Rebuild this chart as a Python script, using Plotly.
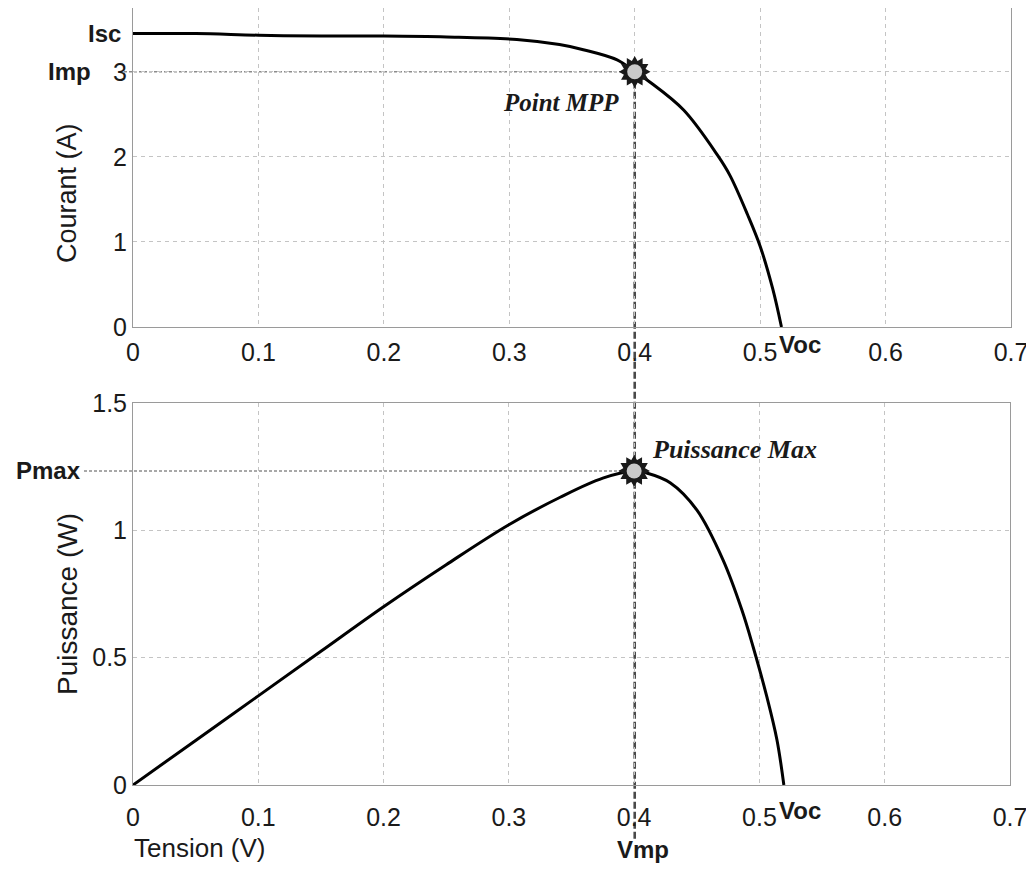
import plotly.graph_objects as go

# ---------------- data ----------------
V_IV = [0, 0.05, 0.1, 0.15, 0.2, 0.25, 0.306, 0.34, 0.359, 0.386, 0.4, 0.412, 0.439, 0.466, 0.476, 0.49, 0.50, 0.51, 0.517]
I_IV = [3.45, 3.45, 3.43, 3.42, 3.42, 3.41, 3.38, 3.32, 3.26, 3.14, 3.00, 2.88, 2.55, 2.02, 1.78, 1.32, 0.95, 0.45, 0.0]

V_PV = [0, 0.05, 0.1, 0.15, 0.2, 0.25, 0.3, 0.341, 0.375, 0.4, 0.41, 0.429, 0.45, 0.471, 0.486, 0.495, 0.506, 0.514, 0.5195]
P_PV = [0, 0.175, 0.35, 0.525, 0.70, 0.865, 1.022, 1.13, 1.205, 1.233, 1.225, 1.186, 1.08, 0.883, 0.687, 0.542, 0.345, 0.177, 0.0]

V_MP = 0.4
I_MP = 3.0
P_MAX = 1.233
I_SC = 3.45
V_OC = 0.517

X_TICKS = [0, 0.1, 0.2, 0.3, 0.4, 0.5, 0.6, 0.7]
X_TICK_TEXT = ["0", "0.1", "0.2", "0.3", "0.4", "0.5", "0.6", "0.7"]
Y1_TICKS = [0, 1, 2, 3]
Y1_TICK_TEXT = ["0", "1", "2", "3"]
Y2_TICKS = [0, 0.5, 1, 1.5]
Y2_TICK_TEXT = ["0", "0.5", "1", "1.5"]

# ---------------- layout geometry ----------------
W, H = 1034, 871
OFF = 8  # page body margin in the browser
X_RANGE = [0, 0.7]
Y1_RANGE = [0, 3.75]
Y2_RANGE = [0, 1.5]


def px_to_paper_x(px):
    return (px - OFF) / W


def px_to_paper_y(py):
    return min(1.0, 1 - (py - OFF) / H)


XDOM1 = [px_to_paper_x(133), px_to_paper_x(1011)]
XDOM2 = [px_to_paper_x(133), px_to_paper_x(1010)]
YDOM1 = [px_to_paper_y(327), px_to_paper_y(8)]
YDOM2 = [px_to_paper_y(785), px_to_paper_y(403)]


def data_to_paper(v, rng, dom):
    return dom[0] + (v - rng[0]) / (rng[1] - rng[0]) * (dom[1] - dom[0])


SANS = "Liberation Sans, Arial, sans-serif"
SERIF = "Liberation Serif, Times New Roman, serif"
TXT = "#1a1a1a"

fig = go.Figure()

# curves
fig.add_trace(go.Scatter(x=V_IV, y=I_IV, mode="lines",
                         line=dict(color="#000", width=3, shape="spline", smoothing=1.0),
                         xaxis="x", yaxis="y", showlegend=False, hoverinfo="skip"))
fig.add_trace(go.Scatter(x=V_PV, y=P_PV, mode="lines",
                         line=dict(color="#000", width=3, shape="spline", smoothing=1.0),
                         xaxis="x2", yaxis="y2", showlegend=False, hoverinfo="skip"))

# starburst markers at the maximum power point
for xa, ya, yv in (("x", "y", I_MP), ("x2", "y2", P_MAX)):
    for ang in (0, 30):
        fig.add_trace(go.Scatter(x=[V_MP], y=[yv], mode="markers", xaxis=xa, yaxis=ya,
                                 marker=dict(symbol="hexagram", size=24, angle=ang, color="#1a1a1a",
                                             line=dict(width=0)),
                                 showlegend=False, hoverinfo="skip", cliponaxis=False))
    fig.add_trace(go.Scatter(x=[V_MP], y=[yv], mode="markers", xaxis=xa, yaxis=ya,
                             marker=dict(symbol="circle", size=15, color="#c9c9c9", line=dict(width=0)),
                             showlegend=False, hoverinfo="skip", cliponaxis=False))

base_axis = dict(
    showgrid=True, gridcolor="#c4c4c4", griddash="4px,4px", gridwidth=1,
    showline=True, linecolor="#9a9a9a", linewidth=1, mirror=True, zeroline=False,
    ticks="", tickfont=dict(family=SANS, size=25, color=TXT), automargin=False,
)

fig.update_layout(
    width=W, height=H,
    margin=dict(l=0, r=0, t=0, b=0, autoexpand=False),
    paper_bgcolor="white", plot_bgcolor="white",
    showlegend=False,
    xaxis=dict(domain=XDOM1, anchor="y", range=X_RANGE, tickvals=X_TICKS, ticktext=X_TICK_TEXT,
               ticklabelstandoff=3, **base_axis),
    yaxis=dict(domain=YDOM1, anchor="x", range=Y1_RANGE, tickvals=Y1_TICKS, ticktext=Y1_TICK_TEXT,
               **base_axis),
    xaxis2=dict(domain=XDOM2, anchor="y2", range=X_RANGE, tickvals=X_TICKS, ticktext=X_TICK_TEXT,
                ticklabelstandoff=10, **base_axis),
    yaxis2=dict(domain=YDOM2, anchor="x2", range=Y2_RANGE, tickvals=Y2_TICKS, ticktext=Y2_TICK_TEXT,
                **base_axis),
)

# dashed guide lines
y_mpp_top = data_to_paper(I_MP, Y1_RANGE, YDOM1)
x_mpp_top = data_to_paper(V_MP, X_RANGE, XDOM1)
x_mpp_bot = data_to_paper(V_MP, X_RANGE, XDOM2)
shapes = [
    dict(type="line", xref="paper", yref="paper", x0=px_to_paper_x(124), x1=x_mpp_top,
         y0=y_mpp_top, y1=y_mpp_top, layer="below",
         line=dict(color="#8c8c8c", width=1.6, dash="3px,2px")),
    dict(type="line", xref="paper", yref="y2", x0=px_to_paper_x(84), x1=x_mpp_bot,
         y0=P_MAX, y1=P_MAX, layer="below",
         line=dict(color="#8c8c8c", width=1.6, dash="3px,2px")),
    dict(type="line", xref="paper", yref="paper", x0=x_mpp_top, x1=x_mpp_top,
         y0=y_mpp_top, y1=px_to_paper_y(840), layer="below",
         line=dict(color="#4a4a4a", width=2.6, dash="7px,3px")),
]
fig.update_layout(shapes=shapes)

bold = dict(family=SANS, size=24, color=TXT)
annotations = [
    dict(text="<b>Isc</b>", xref="paper", x=px_to_paper_x(123), xanchor="right",
         yref="y", y=I_SC, yanchor="middle", showarrow=False, font=bold),
    dict(text="<b>Imp</b>", xref="paper", x=px_to_paper_x(93), xanchor="right",
         yref="y", y=I_MP, yanchor="middle", showarrow=False, font=bold),
    dict(text="<b>Pmax</b>", xref="paper", x=px_to_paper_x(83), xanchor="right",
         yref="y2", y=P_MAX, yanchor="middle", showarrow=False, font=bold),
    dict(text="<b>Voc</b>", xref="x", x=V_OC, xanchor="left", xshift=-4,
         yref="paper", y=px_to_paper_y(345), yanchor="middle", showarrow=False, font=bold),
    dict(text="<b>Voc</b>", xref="x2", x=V_OC, xanchor="left", xshift=-4,
         yref="paper", y=px_to_paper_y(810), yanchor="middle", showarrow=False, font=bold),
    dict(text="<b>Vmp</b>", xref="x2", x=V_MP, xanchor="center", xshift=9,
         yref="paper", y=px_to_paper_y(849), yanchor="middle", showarrow=False, font=bold),
    dict(text="Tension (V)", xref="paper", x=px_to_paper_x(200), xanchor="center",
         yref="paper", y=px_to_paper_y(848), yanchor="middle", showarrow=False,
         font=dict(family=SANS, size=26, color=TXT)),
    dict(text="Courant (A)", xref="paper", x=px_to_paper_x(67), xanchor="center",
         yref="paper", y=px_to_paper_y(193), yanchor="middle", textangle=-90, showarrow=False,
         font=dict(family=SANS, size=27, color=TXT)),
    dict(text="Puissance (W)", xref="paper", x=px_to_paper_x(67), xanchor="center",
         yref="paper", y=px_to_paper_y(604), yanchor="middle", textangle=-90, showarrow=False,
         font=dict(family=SANS, size=28, color=TXT)),
    dict(text="<b><i>Point MPP</i></b>", xref="x", x=V_MP, xanchor="right", xshift=-14,
         yref="y", y=I_MP, yanchor="middle", yshift=-31, showarrow=False,
         font=dict(family=SERIF, size=25, color=TXT)),
    dict(text="<b><i>Puissance Max</i></b>", xref="x2", x=V_MP, xanchor="left", xshift=16,
         yref="y2", y=P_MAX, yanchor="middle", yshift=21, showarrow=False,
         font=dict(family=SERIF, size=26, color=TXT)),
]
fig.update_layout(annotations=annotations)

fig.write_html("out.html")
